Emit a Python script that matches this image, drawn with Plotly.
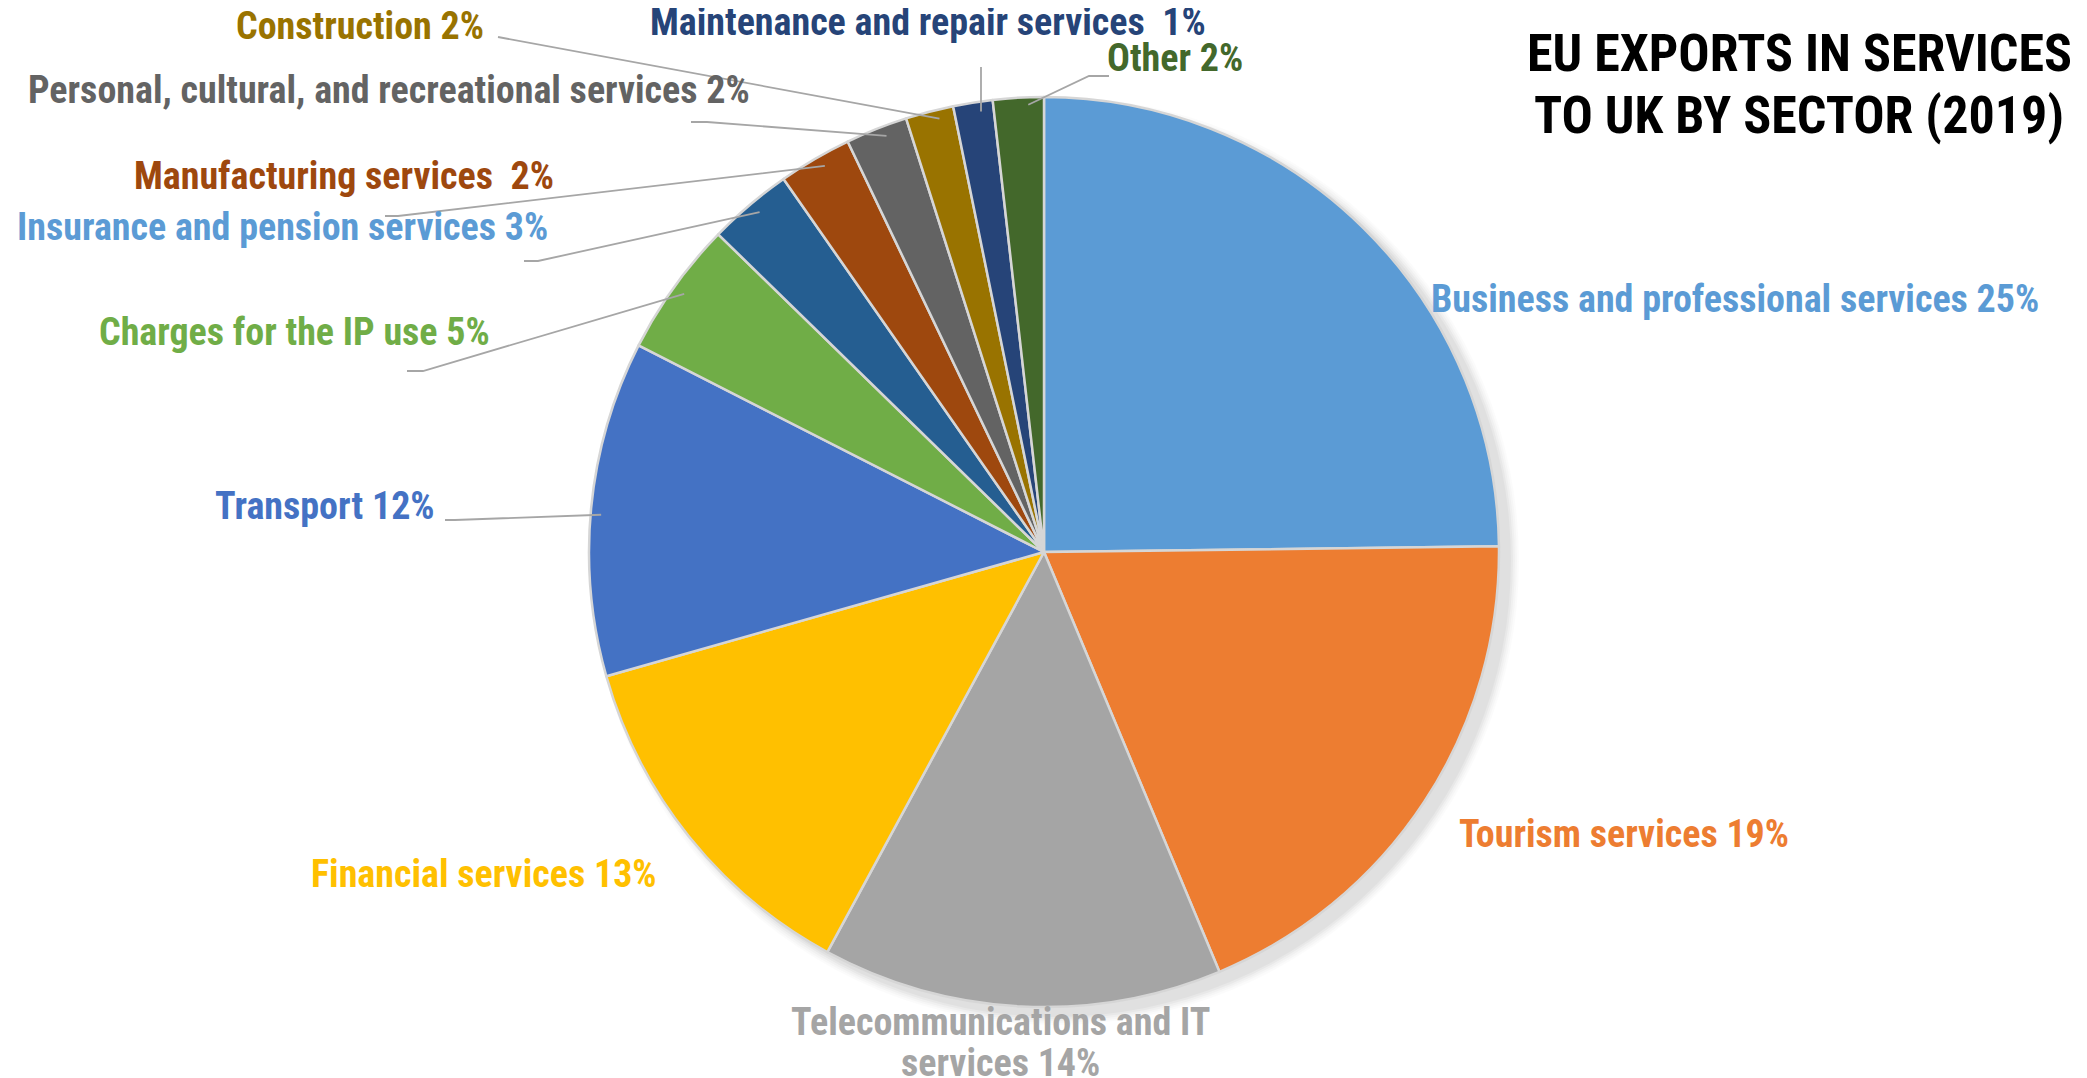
import math
import plotly.graph_objects as go

# ---- data ----
sectors = [
    "Business and professional services",
    "Tourism services",
    "Telecommunications and IT services",
    "Financial services",
    "Transport",
    "Charges for the IP use",
    "Insurance and pension services",
    "Manufacturing services",
    "Personal, cultural, and recreational services",
    "Construction",
    "Maintenance and repair services",
    "Other",
]
shares = [24.8, 18.9, 14.2, 12.7, 11.9, 4.8, 3.0, 2.6, 2.2, 1.7, 1.4, 1.8]
pct_labels = ["25%", "19%", "14%", "13%", "12%", "5%", "3%", "2%", "2%", "2%", "1%", "2%"]
slice_colors = ["#5B9BD5", "#ED7D31", "#A5A5A5", "#FFC000", "#4472C4", "#70AD47",
                "#255E91", "#9E480E", "#636363", "#997300", "#264478", "#43682B"]
label_colors = ["#5B9BD5", "#ED7D31", "#A5A5A5", "#FFC000", "#4472C4", "#70AD47",
                "#5B9BD5", "#9E480E", "#636363", "#997300", "#264478", "#43682B"]
title_lines = ["EU EXPORTS IN SERVICES", "TO UK BY SECTOR (2019)"]

# ---- layout geometry (pixels) ----
W, H = 2087, 1078
CX, CY, R = 1046, 551, 455          # target pie centre / radius
DOM_DX, DOM_DY = -10, -7            # renderer offset correction for domain
FONT = "Liberation Sans Narrow, Arial Narrow, Roboto Condensed, Roboto, sans-serif"
LABEL_SIZE = 38
TY = -6                              # vertical text correction
LX, RX = -10, -4                     # horizontal corrections for left/right anchored text

def px(x):
    return x / W

def py(y):
    return 1 - y / H

fig = go.Figure()
dcx, dcy = CX + DOM_DX, CY + DOM_DY
fig.add_trace(go.Pie(
    labels=sectors,
    values=shares,
    sort=False,
    direction="clockwise",
    rotation=0,
    textinfo="none",
    hoverinfo="label+percent",
    marker=dict(colors=slice_colors, line=dict(color="#D6D6D6", width=2.5)),
    domain=dict(x=[px(dcx - R), px(dcx + R)], y=[py(dcy + R), py(dcy - R)]),
    showlegend=False,
))

label_layout = {
    0: dict(x=1431, y=297, xa="left", start=None, elbow=None),
    1: dict(x=1459, y=832, xa="left", start=None, elbow=None),
    3: dict(x=655, y=872, xa="right", start=None, elbow=None),
    4: dict(x=433, y=504, xa="right", start=(437, 512), elbow=(447, 512)),
    5: dict(x=488, y=330, xa="right", start=(399, 363), elbow=(415, 363)),
    6: dict(x=546, y=225, xa="right", start=(516, 253), elbow=(530, 253)),
    7: dict(x=552, y=174, xa="right", start=(377, 208), elbow=(390, 208)),
    8: dict(x=748, y=88, xa="right", start=(683, 114), elbow=(699, 114)),
    9: dict(x=482, y=24, xa="right", start=(490, 29), elbow=None),
    10: dict(x=650, y=20, xa="left", start=(973, 59), elbow=None),
    11: dict(x=1107, y=56, xa="left", start=(1101, 68), elbow=(1081, 68)),
}
spacer = {7: "\u00a0\u00a0", 10: "\u00a0\u00a0"}

# soft shadow behind pie
shapes = []
for grow, alpha in [(9, 0.015), (7, 0.02), (5, 0.025), (3, 0.03), (1, 0.03)]:
    shapes.append(dict(type="circle", xref="paper", yref="paper", layer="below",
                       x0=px(CX - R - grow + 1), x1=px(CX + R + grow + 1),
                       y0=py(CY + R + grow + 2), y1=py(CY - R - grow + 2),
                       fillcolor=f"rgba(0,0,0,{alpha})", line=dict(width=0)))

total = sum(shares)
cum = 0.0
for i, (name, v) in enumerate(zip(sectors, shares)):
    mid = (cum + v / 2) / total * 2 * math.pi
    cum += v
    ex = CX + R * math.sin(mid)
    ey = CY - R * math.cos(mid)
    fnt = dict(family=FONT, size=LABEL_SIZE, color=label_colors[i], weight="bold")
    if i == 2:
        for line, ty in zip(["Telecommunications and IT", "services " + pct_labels[i]],
                            [1020, 1061]):
            fig.add_annotation(x=px(992), y=py(ty + TY), xref="paper", yref="paper",
                               text=line, showarrow=False, xanchor="center",
                               yanchor="middle", font=fnt)
        continue
    L = label_layout[i]
    sep = spacer.get(i, " ")
    txt = name + sep + pct_labels[i]
    dx = LX if L["xa"] == "left" else RX
    fig.add_annotation(
        x=px(L["x"] + dx), y=py(L["y"] + TY), xref="paper", yref="paper",
        text=txt, showarrow=False, xanchor=L["xa"], yanchor="middle",
        font=fnt,
    )
    if L["start"] is not None:
        pts = [L["start"]]
        if L["elbow"] is not None:
            pts.append(L["elbow"])
        if i == 10:
            pts.append((L["start"][0], ey + 2))
        else:
            pts.append((ex, ey))
        path = "M " + " L ".join(f"{px(a):.5f},{py(b):.5f}" for a, b in pts)
        shapes.append(dict(type="path", path=path, xref="paper", yref="paper",
                           line=dict(color="#A6A6A6", width=1.8)))

for line, ty in zip(title_lines, [51, 113]):
    fig.add_annotation(
        x=px(1791), y=py(ty + TY), xref="paper", yref="paper",
        text=line, showarrow=False, xanchor="center", yanchor="middle",
        font=dict(family=FONT, size=52, color="#000000", weight="bold"),
    )

fig.update_layout(
    width=W, height=H,
    margin=dict(l=0, r=0, t=0, b=0),
    paper_bgcolor="white",
    plot_bgcolor="white",
    shapes=shapes,
)

fig.write_html("out.html")
